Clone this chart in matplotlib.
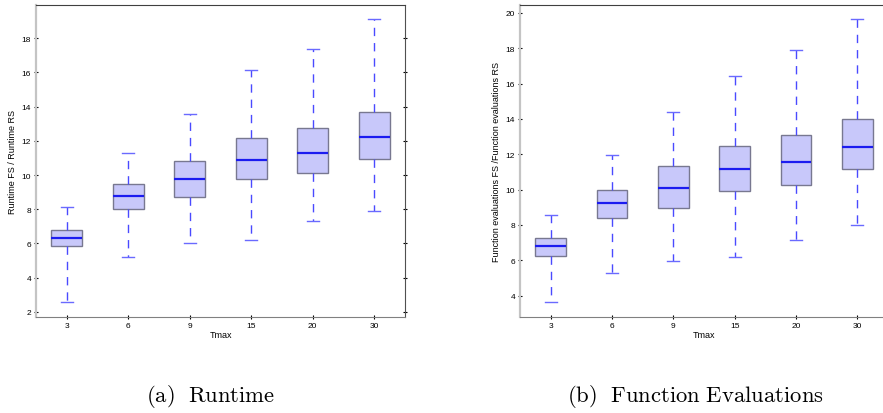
import matplotlib
matplotlib.use("Agg")
import matplotlib.pyplot as plt

plt.rcParams['mathtext.fontset'] = 'cm'
plt.rcParams['font.family'] = ['Liberation Sans', 'DejaVu Sans']

tmax = ['3', '6', '9', '15', '20', '30']

# runtime ratio: whislo, q1, med, q3, whishi
rt_lo = [2.58, 5.18, 6.00, 6.17, 7.29, 7.87]
rt_q1 = [5.86, 8.01, 8.69, 9.74, 10.12, 10.93]
rt_med = [6.31, 8.79, 9.76, 10.88, 11.31, 12.24]
rt_q3 = [6.76, 9.47, 10.84, 12.15, 12.77, 13.71]
rt_hi = [8.11, 11.27, 13.55, 16.13, 17.36, 19.11]

# function evaluations ratio
fe_lo = [3.66, 5.27, 5.95, 6.17, 7.14, 7.98]
fe_q1 = [6.25, 8.38, 8.95, 9.91, 10.25, 11.15]
fe_med = [6.81, 9.25, 10.11, 11.15, 11.55, 12.43]
fe_q3 = [7.28, 10.00, 11.36, 12.45, 13.08, 13.98]
fe_hi = [8.55, 11.96, 14.38, 16.43, 17.89, 19.64]


def stats(lo, q1, med, q3, hi):
    return [dict(whislo=a, q1=b, med=c, q3=d, whishi=e, fliers=[])
            for a, b, c, d, e in zip(lo, q1, med, q3, hi)]


def draw(ax, st, ylabel, ylim, yticks):
    ax.bxp(st, positions=range(1, 7), widths=0.5, patch_artist=True,
           showfliers=False, capwidths=0.2,
           boxprops=dict(facecolor='#c8c8fa', edgecolor='#787890', linewidth=1.0),
           medianprops=dict(color='#1c1cf0', linewidth=1.6),
           whiskerprops=dict(color='#4a4aff', linewidth=1.0, linestyle=(0, (6, 5))),
           capprops=dict(color='#6a6aff', linewidth=1.0))
    ax.set_xlim(0.5, 6.5)
    ax.set_ylim(*ylim)
    ax.set_yticks(yticks)
    ax.set_xticks(range(1, 7))
    ax.set_xticklabels(tmax)
    ax.tick_params(labelsize=6, length=3, width=0.8, direction='inout',
                   right=True, top=False, pad=2)
    ax.set_xlabel('Tmax', fontsize=6.5, labelpad=1)
    ax.set_ylabel(ylabel, fontsize=6.5, labelpad=3)
    ax.spines['left'].set_color('#c4c4c4')
    ax.spines['left'].set_linewidth(1.6)
    ax.spines['top'].set_color('#404040')
    ax.spines['right'].set_color('#505050')
    ax.spines['bottom'].set_color('#808080')
    for s in ax.spines.values():
        s.set_zorder(5)


fig = plt.figure(figsize=(8.83, 4.14), dpi=100)
W, H = 883.0, 414.0
ax1 = fig.add_axes([36 / W, 96 / H, 369 / W, 312 / H])
ax2 = fig.add_axes([520 / W, 96 / H, 368 / W, 312 / H])

draw(ax1, stats(rt_lo, rt_q1, rt_med, rt_q3, rt_hi),
     'Runtime FS / Runtime RS', (1.69, 19.95), range(2, 19, 2))
draw(ax2, stats(fe_lo, fe_q1, fe_med, fe_q3, fe_hi),
     'Function evaluations FS /Function evaluations RS', (2.79, 20.45), range(4, 21, 2))

fig.text(211 / W, 1 - 397 / H, r'$\mathrm{(a)\ \ Runtime}$', fontsize=16.3,
         ha='center', va='center')
fig.text(695 / W, 1 - 397 / H, r'$\mathrm{(b)\ \ Function\ Evaluations}$', fontsize=16.3,
         ha='center', va='center')

fig.savefig('out.png', dpi=100)
